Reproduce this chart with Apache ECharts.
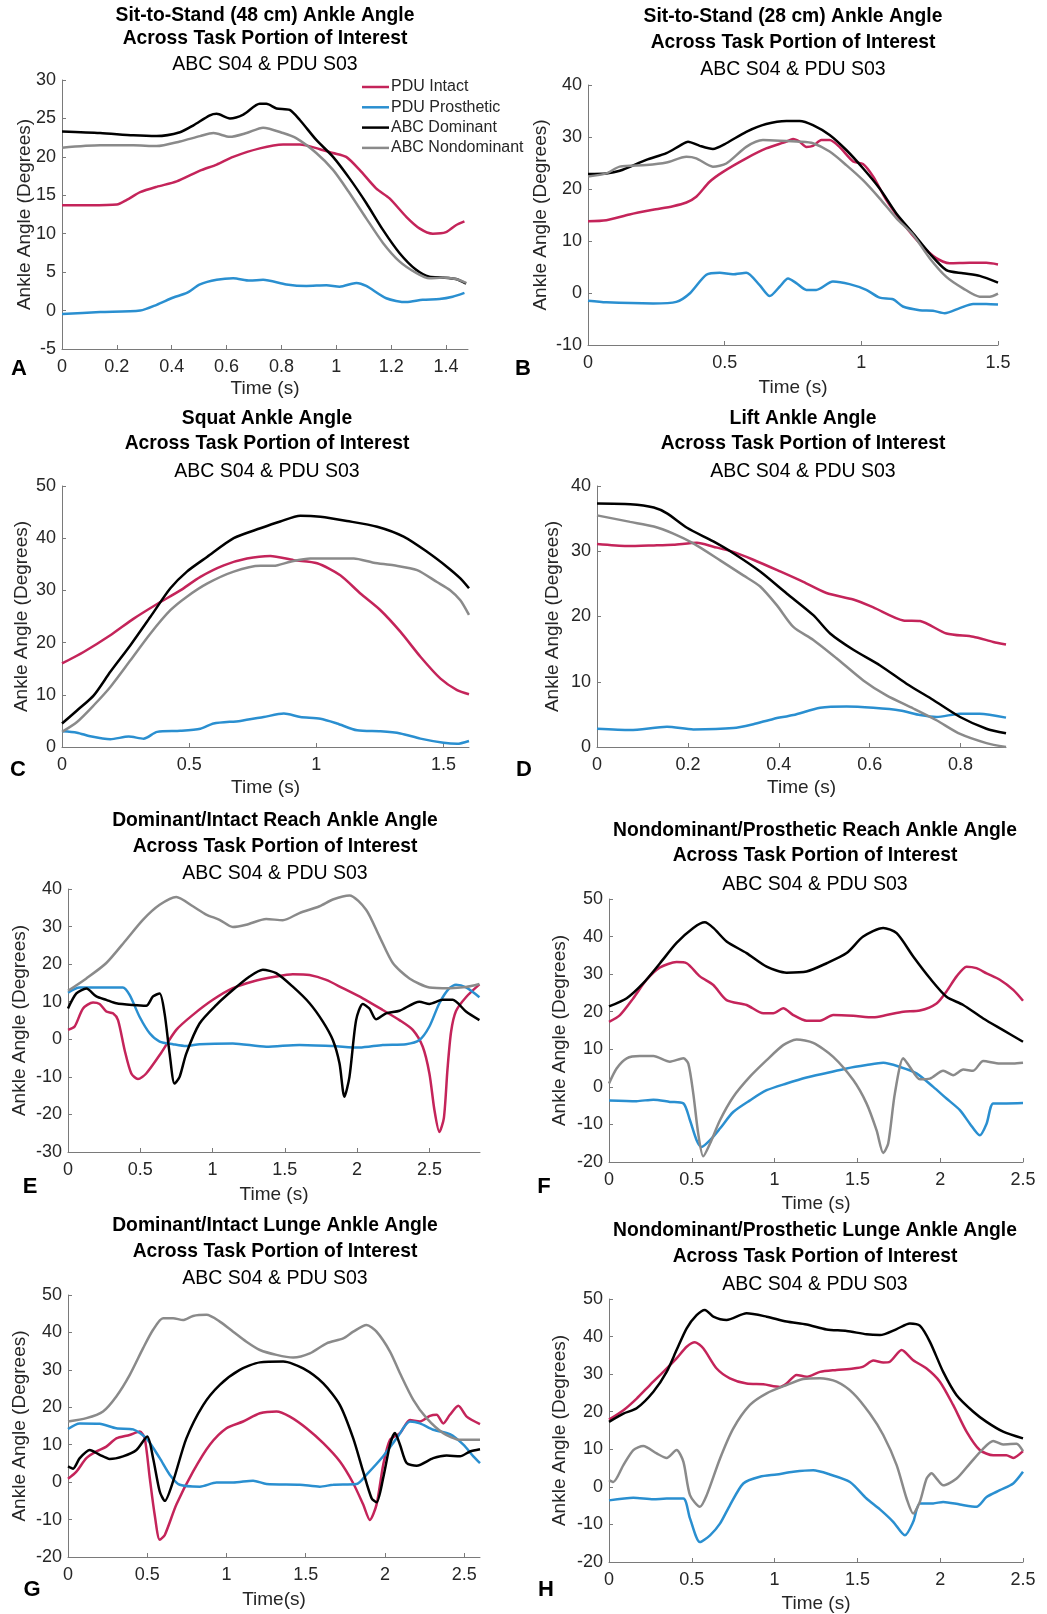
<!DOCTYPE html>
<html>
<head>
<meta charset="utf-8">
<script src="https://cdn.jsdelivr.net/npm/echarts@6/dist/echarts.min.js"></script>
<style>
html,body{margin:0;padding:0;background:#fff;}
#chart{width:1047px;height:1614px;}
</style>
</head>
<body>
<div id="chart"></div>
<script>
// ---------- DATA: [time (s), ankle angle (deg)] ----------
const seriesNames = ['PDU Intact','PDU Prosthetic','ABC Dominant','ABC Nondominant'];
const subtitle = 'ABC S04 & PDU S03';

// A: Sit-to-Stand (48 cm)
const A_intact = [[0,13.7],[0.1,13.7],[0.2,13.8],[0.236,14.4],[0.285,15.4],[0.345,16.1],[0.418,16.8],[0.503,18.2],[0.564,19],[0.624,20],[0.721,21.1],[0.806,21.6],[0.867,21.6],[0.94,21],[0.988,20.5],[1.036,20],[1.085,18.3],[1.145,15.9],[1.194,14.6],[1.255,12.2],[1.303,10.7],[1.352,10],[1.4,10.2],[1.436,11.1],[1.467,11.6]];
const A_prost = [[0,-0.45],[0.139,-0.2],[0.285,0],[0.345,0.75],[0.406,1.7],[0.455,2.3],[0.503,3.4],[0.564,4.0],[0.624,4.2],[0.685,3.9],[0.733,4.0],[0.818,3.4],[0.891,3.2],[0.964,3.3],[1.012,3.1],[1.073,3.6],[1.109,3.2],[1.182,1.6],[1.255,1.1],[1.315,1.4],[1.376,1.5],[1.424,1.8],[1.467,2.3]];
const A_dom = [[0,23.3],[0.139,23.1],[0.26,22.8],[0.345,22.7],[0.43,23.2],[0.479,24.1],[0.539,25.4],[0.564,25.6],[0.612,25],[0.661,25.5],[0.721,26.9],[0.745,26.9],[0.782,26.3],[0.83,26.1],[0.867,24.8],[0.927,22.2],[0.988,20],[1.048,17.2],[1.109,14],[1.17,10.5],[1.23,7.5],[1.291,5.3],[1.339,4.4],[1.388,4.3],[1.436,4.1],[1.473,3.5]];
const A_nondom = [[0,21.2],[0.139,21.5],[0.26,21.5],[0.345,21.4],[0.43,22],[0.503,22.7],[0.552,23.1],[0.612,22.6],[0.673,23.1],[0.733,23.8],[0.806,23.1],[0.855,22.4],[0.927,20.5],[0.988,18.3],[1.048,15.3],[1.109,12],[1.17,8.8],[1.23,6.4],[1.291,4.9],[1.339,4.2],[1.388,4.3],[1.436,4.1],[1.473,3.6]];

// B: Sit-to-Stand (28 cm)
const B_intact = [[0,13.8],[0.067,14],[0.152,15.1],[0.238,16],[0.311,16.7],[0.36,17.4],[0.396,18.5],[0.445,21.4],[0.494,23.3],[0.579,25.9],[0.652,27.8],[0.726,29.1],[0.75,29.6],[0.774,29.1],[0.799,28.1],[0.823,28.3],[0.854,29.4],[0.884,29.4],[0.92,28.1],[0.97,25.3],[1.006,24.8],[1.043,22.4],[1.091,17.9],[1.152,13.4],[1.213,9.6],[1.274,6.7],[1.323,5.7],[1.396,5.8],[1.457,5.8],[1.5,5.5]];
const B_prost = [[0,-1.5],[0.067,-1.8],[0.238,-2],[0.323,-1.7],[0.372,-0.1],[0.433,3.5],[0.482,3.9],[0.53,3.6],[0.579,3.9],[0.628,1.5],[0.665,-0.6],[0.701,1.2],[0.732,2.8],[0.762,1.9],[0.799,0.6],[0.835,0.6],[0.896,2.2],[0.957,1.7],[1.018,0.6],[1.067,-0.9],[1.116,-1.2],[1.152,-2.6],[1.213,-3.3],[1.262,-3.4],[1.305,-3.9],[1.36,-2.9],[1.409,-2.1],[1.457,-2.1],[1.5,-2.2]];
const B_dom = [[0,22.9],[0.067,23],[0.116,23.5],[0.213,25.6],[0.287,26.9],[0.335,28.3],[0.366,29.1],[0.409,28.3],[0.457,27.7],[0.506,28.8],[0.579,31],[0.652,32.5],[0.726,33.1],[0.774,33.1],[0.823,32.3],[0.884,30.4],[0.945,27.5],[1.006,24],[1.067,20.1],[1.128,15.3],[1.189,11.5],[1.25,7.6],[1.311,4.4],[1.372,3.8],[1.433,3.3],[1.5,2]];
const B_nondom = [[0,22.4],[0.067,23],[0.116,24.3],[0.213,24.6],[0.287,25.1],[0.36,26.2],[0.396,25.9],[0.457,24.3],[0.506,24.9],[0.579,28.1],[0.64,29.4],[0.701,29.3],[0.774,29.1],[0.823,28.8],[0.884,27.2],[0.945,24.6],[1.006,21.7],[1.067,18.2],[1.128,14.4],[1.189,11.2],[1.25,6.7],[1.311,3.1],[1.372,0.9],[1.433,-0.7],[1.47,-0.7],[1.5,-0.1]];

// C: Squat
const C_intact = [[0,16],[0.085,18.2],[0.19,21.4],[0.282,24.6],[0.374,27.4],[0.465,30],[0.544,32.6],[0.636,34.8],[0.727,36.1],[0.819,36.6],[0.911,35.8],[1.003,35.2],[1.094,32.9],[1.173,29.4],[1.252,26.2],[1.33,22.1],[1.409,17.3],[1.488,13.1],[1.553,10.9],[1.6,10.1]];
const C_prost = [[0,3],[0.059,2.75],[0.111,2.05],[0.19,1.5],[0.262,2],[0.321,1.6],[0.374,2.9],[0.465,3.1],[0.544,3.5],[0.596,4.5],[0.701,5],[0.793,5.75],[0.872,6.4],[0.937,5.75],[1.016,5.4],[1.081,4.5],[1.16,3.2],[1.252,3],[1.33,2.6],[1.409,1.6],[1.5,0.8],[1.553,0.6],[1.6,1.15]];
const C_dom = [[0,4.5],[0.059,7],[0.125,9.9],[0.19,14.4],[0.269,19.5],[0.347,24.9],[0.426,30.4],[0.491,33.6],[0.57,36.4],[0.675,40],[0.78,41.9],[0.858,43.2],[0.937,44.3],[1.016,44.1],[1.12,43.3],[1.239,42.2],[1.343,40.3],[1.435,37.4],[1.514,34.5],[1.566,32.3],[1.6,30.4]];
const C_nondom = [[0,2.9],[0.059,4.8],[0.125,8],[0.19,11.5],[0.269,16.6],[0.347,21.7],[0.426,26.2],[0.491,28.8],[0.57,31.3],[0.675,33.6],[0.78,34.7],[0.832,34.7],[0.898,35.5],[0.976,36.1],[1.068,36.1],[1.147,36.1],[1.225,35.3],[1.304,34.8],[1.396,33.9],[1.474,31.6],[1.527,30],[1.566,28.1],[1.6,25.3]];

// D: Lift
const D_intact = [[0,31.1],[0.066,30.8],[0.125,30.9],[0.168,31],[0.22,31.3],[0.256,30.7],[0.3,29.9],[0.344,28.7],[0.403,26.9],[0.454,25.3],[0.505,23.6],[0.564,22.6],[0.608,21.4],[0.674,19.4],[0.711,19.3],[0.769,17.4],[0.828,16.9],[0.872,16.1],[0.9,15.7]];
const D_prost = [[0,2.8],[0.073,2.6],[0.154,3.1],[0.212,2.7],[0.3,2.9],[0.344,3.5],[0.388,4.3],[0.432,4.9],[0.491,6],[0.549,6.2],[0.608,6],[0.667,5.6],[0.711,4.9],[0.747,4.6],[0.799,5.1],[0.842,5.1],[0.9,4.5]];
const D_dom = [[0,37.3],[0.073,37.2],[0.125,36.7],[0.154,35.8],[0.198,33.6],[0.256,31.5],[0.3,29.7],[0.359,26.9],[0.418,23.5],[0.476,20.2],[0.513,17.4],[0.564,14.9],[0.623,12.5],[0.681,9.7],[0.74,7.2],[0.799,4.6],[0.857,2.8],[0.9,2.1]];
const D_nondom = [[0,35.5],[0.073,34.5],[0.125,33.8],[0.168,32.7],[0.212,31.2],[0.271,28.6],[0.322,26.3],[0.359,24.6],[0.396,21.7],[0.432,18.4],[0.476,16.4],[0.527,13.6],[0.586,10.2],[0.637,7.9],[0.696,5.9],[0.747,4.1],[0.799,2],[0.857,0.6],[0.9,0]];

// E: Dominant/Intact Reach
const E_intact = [[0,2.5],[0.046,3.4],[0.104,8.2],[0.173,9.8],[0.219,9.4],[0.265,7.4],[0.311,6.9],[0.346,5.1],[0.392,-2.9],[0.438,-9.1],[0.484,-10.6],[0.541,-9.1],[0.634,-4.2],[0.749,2.5],[0.864,6.5],[1.002,10.5],[1.14,13.6],[1.279,15.4],[1.44,16.7],[1.555,17.3],[1.671,17.1],[1.786,15.8],[1.901,13.6],[2.039,10.9],[2.177,7.8],[2.293,5.1],[2.385,2.5],[2.454,-2],[2.5,-9.1],[2.535,-18.9],[2.569,-24.7],[2.6,-21],[2.625,-8],[2.65,2],[2.684,7.5],[2.753,11.2],[2.846,14.6]];
const E_prost = [[0,12.4],[0.081,13.8],[0.219,13.8],[0.38,13.8],[0.426,11.8],[0.495,6],[0.565,1.6],[0.634,-0.6],[0.726,-1.3],[0.818,-1.8],[0.91,-1.3],[1.14,-1.1],[1.371,-2],[1.601,-1.5],[1.832,-1.8],[2.016,-2.2],[2.177,-1.5],[2.339,-1.3],[2.431,-0.2],[2.5,3.4],[2.569,9.6],[2.638,13.6],[2.684,14.5],[2.753,13.8],[2.846,11.2]];
const E_dom = [[0,8.2],[0.058,12.2],[0.127,13.5],[0.196,11.4],[0.265,10.5],[0.334,9.6],[0.449,9.1],[0.541,8.9],[0.588,11.4],[0.634,12.2],[0.668,6.9],[0.703,-3.8],[0.737,-11.8],[0.772,-10],[0.818,-3.8],[0.91,4.2],[1.025,9.1],[1.14,13.1],[1.256,16.7],[1.348,18.5],[1.44,17.6],[1.555,14],[1.671,9.6],[1.763,4.7],[1.832,-0.2],[1.878,-6.4],[1.912,-15.3],[1.947,-10],[1.993,5.1],[2.039,9.4],[2.085,8.2],[2.131,5.3],[2.2,6.9],[2.293,7.6],[2.431,10],[2.5,9.4],[2.592,10.5],[2.661,10.5],[2.753,7.4],[2.846,5.1]];
const E_nondom = [[0,12.9],[0.127,16.2],[0.265,20.3],[0.403,26.5],[0.518,31.8],[0.634,35.8],[0.749,37.9],[0.864,35.4],[0.956,33.2],[1.048,31.8],[1.14,29.9],[1.233,30.5],[1.371,32],[1.486,31.7],[1.601,33.6],[1.74,35.4],[1.832,37.2],[1.947,38.3],[2.062,34.5],[2.154,27.4],[2.247,20.3],[2.362,16.2],[2.5,13.8],[2.638,13.6],[2.753,13.9],[2.846,14.7]];

// F: Nondominant/Prosthetic Reach
const F_intact = [[0,17.3],[0.066,19.1],[0.147,23.6],[0.227,28.5],[0.308,31.8],[0.408,33.2],[0.469,32.9],[0.549,29.4],[0.63,27.1],[0.71,23.1],[0.831,21.8],[0.932,19.6],[0.992,19.6],[1.052,20.9],[1.113,19.1],[1.193,17.6],[1.274,17.6],[1.354,19.1],[1.475,18.9],[1.596,18.5],[1.676,19.1],[1.777,20],[1.877,20.3],[1.978,22.2],[2.038,25.4],[2.099,29.4],[2.159,32],[2.219,31.6],[2.28,30.2],[2.36,28.5],[2.441,25.8],[2.5,22.9]];
const F_prost = [[0,-3.6],[0.167,-3.8],[0.268,-3.4],[0.368,-4],[0.449,-4.4],[0.489,-8.9],[0.529,-14.2],[0.559,-16],[0.61,-14.2],[0.67,-11.1],[0.75,-6.7],[0.851,-3.6],[0.952,-0.9],[1.072,0.9],[1.193,2.5],[1.314,3.7],[1.435,4.9],[1.555,5.8],[1.656,6.4],[1.757,5.3],[1.857,3.6],[1.958,0],[2.038,-3.1],[2.119,-6.2],[2.179,-9.8],[2.239,-12.9],[2.28,-9.8],[2.32,-4.4],[2.4,-4.4],[2.5,-4.3]];
const F_dom = [[0,21.4],[0.107,23.6],[0.207,27.6],[0.308,32.9],[0.408,38.3],[0.509,42.3],[0.579,43.8],[0.63,42.3],[0.71,38.7],[0.831,35.6],[0.952,32],[1.072,30.4],[1.193,30.7],[1.314,32.9],[1.435,35.6],[1.535,40],[1.656,42.3],[1.737,40.9],[1.837,34.7],[1.938,28.9],[2.038,24],[2.139,21.8],[2.26,18.2],[2.38,15.1],[2.5,12]];
const F_nondom = [[0,0.9],[0.046,4.9],[0.107,7.6],[0.187,8.2],[0.268,8.2],[0.368,6.7],[0.449,7.6],[0.479,6.2],[0.509,-1.8],[0.539,-12.5],[0.569,-18.5],[0.61,-15.1],[0.67,-8.9],[0.75,-2.7],[0.851,2.7],[0.952,7.1],[1.052,11.1],[1.133,12.6],[1.233,11.7],[1.354,8],[1.475,1.8],[1.555,-4.4],[1.616,-11.6],[1.656,-17.6],[1.686,-15.1],[1.726,-1.8],[1.777,7.6],[1.817,5.3],[1.877,2],[1.938,2.2],[2.018,4.3],[2.078,3.1],[2.139,4.6],[2.199,4.3],[2.26,6.9],[2.36,6.2],[2.441,6.2],[2.5,6.4]];

// G: Dominant/Intact Lunge
const G_intact = [[0,0.9],[0.053,2.8],[0.116,6.4],[0.179,8.2],[0.242,9.5],[0.305,11.7],[0.389,12.6],[0.453,13.5],[0.484,11.7],[0.516,1.1],[0.547,-8.7],[0.579,-15.4],[0.611,-14.1],[0.684,-6],[0.789,2.8],[0.895,10],[1.0,14.4],[1.105,16.2],[1.211,18.4],[1.316,18.9],[1.4,17.5],[1.505,14.4],[1.611,10.4],[1.716,5.5],[1.8,-0.3],[1.863,-6],[1.905,-10.1],[1.947,-6],[1.989,4.6],[2.032,11.3],[2.095,13.1],[2.158,16.6],[2.221,16.2],[2.284,17.7],[2.326,18],[2.368,15.7],[2.41,18],[2.463,20.4],[2.516,17.5],[2.6,15.5]];
const G_prost = [[0,14.2],[0.074,15.7],[0.2,15.6],[0.305,14.4],[0.411,14.1],[0.495,11.7],[0.579,6.4],[0.642,2],[0.705,-0.7],[0.832,-1.2],[0.937,-0.1],[1.042,-0.1],[1.168,0.4],[1.253,-0.5],[1.463,-0.7],[1.589,-1.2],[1.674,-0.7],[1.821,-0.5],[1.884,2],[1.989,6.9],[2.074,11.7],[2.158,16.2],[2.221,15.7],[2.305,14],[2.41,12.8],[2.495,10],[2.558,6.9],[2.6,5.1]];
const G_dom = [[0,4.2],[0.032,3.6],[0.074,6.4],[0.137,8.6],[0.2,7.3],[0.263,6.2],[0.347,6.9],[0.432,8.6],[0.5,12.2],[0.537,6.4],[0.579,-2.5],[0.611,-5],[0.663,0.2],[0.747,11.7],[0.853,20.6],[0.958,26],[1.084,30],[1.211,32],[1.358,32.2],[1.484,30.4],[1.611,26.4],[1.716,20.6],[1.8,11.7],[1.863,2.8],[1.916,-4.3],[1.947,-5.4],[1.989,1.1],[2.032,10],[2.063,13.1],[2.095,10],[2.137,5.1],[2.2,4.4],[2.305,6.4],[2.389,7.1],[2.474,6.9],[2.537,8.2],[2.6,8.8]];
const G_nondom = [[0,16.2],[0.116,17.1],[0.221,18.9],[0.305,22.9],[0.389,28.6],[0.474,35.8],[0.537,40.7],[0.6,43.8],[0.663,43.8],[0.726,43.3],[0.789,44.4],[0.874,44.7],[0.958,42.9],[1.042,40.2],[1.126,37.5],[1.211,35.3],[1.316,34],[1.421,33.3],[1.526,34.4],[1.632,37.1],[1.737,38.4],[1.8,40.2],[1.884,42],[1.947,40.2],[2.032,34.9],[2.095,29.1],[2.179,22],[2.263,17.1],[2.368,13.1],[2.474,11.3],[2.6,11.3]];

// H: Nondominant/Prosthetic Lunge
const H_intact = [[0,17.9],[0.087,20.4],[0.167,23.5],[0.247,27.1],[0.328,30.6],[0.408,34.2],[0.469,37.3],[0.519,38.5],[0.569,36.9],[0.65,31.5],[0.73,28.9],[0.831,27.5],[0.932,27.3],[1.032,26.6],[1.072,27.5],[1.133,29.8],[1.193,29.3],[1.274,30.6],[1.374,31.1],[1.475,31.5],[1.535,32],[1.596,33.6],[1.656,33.1],[1.696,33.3],[1.767,36.4],[1.837,33.7],[1.918,31.5],[1.998,28],[2.078,21.8],[2.159,14.7],[2.239,9.8],[2.32,8.4],[2.4,8.4],[2.441,7.7],[2.5,9.5]];
const H_prost = [[0,-3.6],[0.147,-2.9],[0.268,-3.3],[0.348,-3.1],[0.449,-3.1],[0.489,-8.4],[0.549,-14.7],[0.61,-12.9],[0.67,-9.8],[0.73,-4.9],[0.811,0.9],[0.911,2.7],[1.012,3.3],[1.113,4],[1.233,4.4],[1.334,3.3],[1.455,1.3],[1.555,-3.1],[1.636,-6],[1.716,-9.3],[1.787,-12.9],[1.837,-9.3],[1.877,-4.4],[1.958,-4.4],[2.018,-4],[2.119,-4.7],[2.219,-5.3],[2.28,-2.7],[2.36,-0.9],[2.441,0.9],[2.5,4]];
const H_dom = [[0,17.3],[0.087,19.5],[0.167,20.9],[0.268,25.3],[0.348,30.6],[0.408,36.4],[0.469,42.2],[0.529,45.7],[0.579,47.1],[0.63,45.3],[0.71,44.4],[0.831,46.2],[0.952,45.3],[1.072,44],[1.193,43.2],[1.314,41.9],[1.435,41.5],[1.555,40.6],[1.636,40.4],[1.737,42],[1.817,43.5],[1.877,42.9],[1.938,38.6],[2.018,30.6],[2.099,24.4],[2.2,20],[2.28,17.3],[2.38,14.7],[2.5,12.9]];
const H_nondom = [[0,1.8],[0.026,1.3],[0.087,5.8],[0.147,9.8],[0.207,10.9],[0.288,8.9],[0.348,7.7],[0.408,9.8],[0.449,6.7],[0.489,-2.2],[0.549,-5.3],[0.59,-2.2],[0.67,7.5],[0.75,15.5],[0.851,21.8],[0.952,24.9],[1.072,27.1],[1.173,28.7],[1.274,28.9],[1.374,28],[1.475,24.9],[1.575,19.5],[1.656,13.8],[1.737,5.8],[1.797,-3.1],[1.837,-7.1],[1.877,-4],[1.918,2.2],[1.948,3.6],[1.978,2.2],[2.018,0.4],[2.099,2.2],[2.179,6.2],[2.26,10.2],[2.32,12.2],[2.38,11.3],[2.461,11.5],[2.5,9.5]];

// titles, axis names, ranges [min, max, interval]
const titles = [
  ['Sit-to-Stand (48 cm) Ankle Angle','Across Task Portion of Interest'],
  ['Sit-to-Stand (28 cm) Ankle Angle','Across Task Portion of Interest'],
  ['Squat Ankle Angle','Across Task Portion of Interest'],
  ['Lift Ankle Angle','Across Task Portion of Interest'],
  ['Dominant/Intact Reach Ankle Angle','Across Task Portion of Interest'],
  ['Nondominant/Prosthetic Reach Ankle Angle','Across Task Portion of Interest'],
  ['Dominant/Intact Lunge Ankle Angle','Across Task Portion of Interest'],
  ['Nondominant/Prosthetic Lunge Ankle Angle','Across Task Portion of Interest']
];
const letters = ['A','B','C','D','E','F','G','H'];
const xNames = ['Time (s)','Time (s)','Time (s)','Time (s)','Time (s)','Time (s)','Time(s)','Time (s)'];
const yName = 'Ankle Angle (Degrees)';
const xRanges = [[0,1.48,0.2],[0,1.5,0.5],[0,1.6,0.5],[0,0.9,0.2],[0,2.85,0.5],[0,2.5,0.5],[0,2.6,0.5],[0,2.5,0.5]];
const yRanges = [[-5,30,5],[-10,40,10],[0,50,10],[0,40,10],[-30,40,10],[-20,50,10],[-20,50,10],[-20,50,10]];
const panelData = [
  [A_intact,A_prost,A_dom,A_nondom],[B_intact,B_prost,B_dom,B_nondom],
  [C_intact,C_prost,C_dom,C_nondom],[D_intact,D_prost,D_dom,D_nondom],
  [E_intact,E_prost,E_dom,E_nondom],[F_intact,F_prost,F_dom,F_nondom],
  [G_intact,G_prost,G_dom,G_nondom],[H_intact,H_prost,H_dom,H_nondom]
];

// ---------- LAYOUT (pixels) ----------
const layout = [
  {grid:[62,80,406,269],  tx:265, ty:[16,39,65],      yGap:28, xGap:30, lab:[19,369]},
  {grid:[588,85,410,260], tx:793, ty:[17,43,70],      yGap:38, xGap:33, lab:[523,369]},
  {grid:[62,486,407,261], tx:267, ty:[419,444,472],   yGap:31, xGap:31, lab:[18,770]},
  {grid:[597,486,409,261],tx:803, ty:[419,444,472],   yGap:35, xGap:31, lab:[524,770]},
  {grid:[68,889,412,263], tx:275, ty:[821,847,874],   yGap:39, xGap:33, lab:[30,1187]},
  {grid:[609,899,414,263],tx:815, ty:[831,856,885],   yGap:40, xGap:32, lab:[544,1187]},
  {grid:[68,1295,412,262],tx:275, ty:[1226,1252,1279],yGap:39, xGap:33, lab:[32,1590]},
  {grid:[609,1299,414,263],tx:815,ty:[1231,1257,1285],yGap:40, xGap:32, lab:[546,1590]}
];
const colors = ['#C4245A','#2A8FD0','#000000','#8A8A8A'];
const FONT = '"Liberation Sans", Arial, Helvetica, sans-serif';
const AXIS_COLOR = '#7a7a7a';
const TEXT_COLOR = '#262626';

const grids = [], xAxes = [], yAxes = [], series = [], titleArr = [], graphics = [];
layout.forEach((L, i) => {
  const [l, t, w, h] = L.grid;
  grids.push({left:l, top:t, width:w, height:h, containLabel:false, outerBoundsMode:'none'});
  const [xmin, xmax, xint] = xRanges[i];
  const niceMax = Math.abs(xmax/xint - Math.round(xmax/xint)) < 1e-6;
  xAxes.push({
    type:'value', gridIndex:i, min:xmin, max:xmax, interval:xint,
    name:xNames[i], nameLocation:'middle', nameGap:L.xGap, nameMoveOverlap:false,
    nameTextStyle:{fontSize:19, color:TEXT_COLOR, fontFamily:FONT},
    axisLine:{show:true, onZero:false, lineStyle:{color:AXIS_COLOR, width:1}},
    axisTick:{show:true, inside:true, length:4, lineStyle:{color:AXIS_COLOR}},
    splitLine:{show:false},
    axisLabel:{fontSize:18, color:TEXT_COLOR, fontFamily:FONT, margin:9,
      showMaxLabel:niceMax, showMinLabel:true, hideOverlap:false,
      formatter: v => String(+(+v).toFixed(2))}
  });
  const [ymin, ymax, yint] = yRanges[i];
  yAxes.push({
    type:'value', gridIndex:i, min:ymin, max:ymax, interval:yint,
    name:yName, nameLocation:'middle', nameGap:L.yGap, nameMoveOverlap:false,
    nameTextStyle:{fontSize:19, color:TEXT_COLOR, fontFamily:FONT},
    axisLine:{show:true, onZero:false, lineStyle:{color:AXIS_COLOR, width:1}},
    axisTick:{show:true, inside:true, length:4, lineStyle:{color:AXIS_COLOR}},
    splitLine:{show:false},
    axisLabel:{fontSize:18, color:TEXT_COLOR, fontFamily:FONT, margin:6, hideOverlap:false}
  });
  panelData[i].forEach((d, k) => {
    series.push({
      type:'line', name:seriesNames[k], xAxisIndex:i, yAxisIndex:i, data:d,
      symbol:'none', showSymbol:false, smooth:0.25, clip:true,
      lineStyle:{color:colors[k], width:2.5}, itemStyle:{color:colors[k]},
      emphasis:{disabled:true}, animation:false, z:2+k
    });
  });
  const lh = L.ty[1] - L.ty[0];
  titleArr.push({
    text: titles[i].join('\n'), left:L.tx, top:L.ty[0]-lh/2, textAlign:'center', padding:0,
    textStyle:{fontSize:19.3, fontWeight:'bold', color:'#000', fontFamily:FONT, lineHeight:lh}
  });
  titleArr.push({
    text: subtitle, left:L.tx, top:L.ty[2]-11, textAlign:'center', padding:0,
    textStyle:{fontSize:19.5, fontWeight:'normal', color:'#000', fontFamily:FONT, lineHeight:22}
  });
  graphics.push({
    type:'text', x:L.lab[0], y:L.lab[1], silent:true,
    style:{text:letters[i], fill:'#000', font:'bold 22px "Liberation Sans", Arial, sans-serif',
      textAlign:'center', textVerticalAlign:'middle'}
  });
});

const chart = echarts.init(document.getElementById('chart'), null, {renderer:'canvas'});
chart.setOption({
  backgroundColor:'#ffffff',
  animation:false,
  title:titleArr,
  grid:grids,
  xAxis:xAxes,
  yAxis:yAxes,
  legend:{
    data:seriesNames, orient:'vertical', left:362, top:79, padding:0,
    icon:'rect', itemWidth:27, itemHeight:2.5, itemGap:4.3, selectedMode:false,
    textStyle:{fontSize:16, color:TEXT_COLOR, fontFamily:FONT, lineHeight:16, padding:[0,0,0,-3]}
  },
  graphic:graphics,
  series:series
});
</script>
</body>
</html>
